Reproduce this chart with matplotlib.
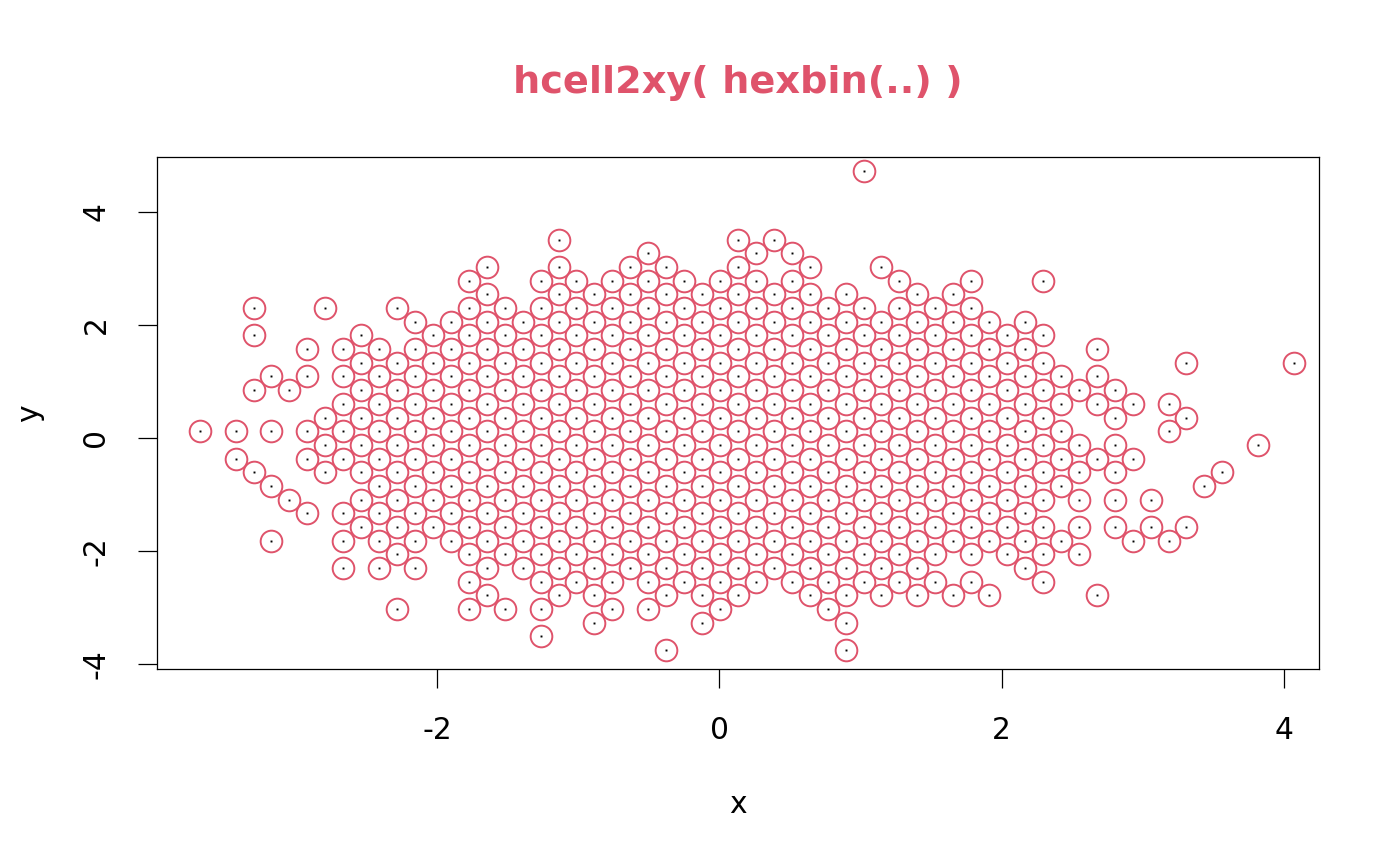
import numpy as np
import matplotlib
matplotlib.use("Agg")
import matplotlib.pyplot as plt

plt.rcParams["font.family"] = ["DejaVu Sans"]
plt.rcParams["axes.unicode_minus"] = False

# hexbin lattice (xbins = 30)
x_bnds = [-3.68, 3.945]
y_bnds = [-3.755, 4.635]
xbins = 30

# occupied hexagon cells, one entry per lattice row (row 0 = bottom)
# column indices j; odd rows are shifted by half a cell
row_cells = [
    "13,18",                    # 0
    "9",                        # 1
    "11,14,18",                 # 2
    "5,7-9,11,12,14,17",        # 3
    "8,10,11,13-15,17-22,25",   # 4
    "7,9-21,23",                # 5
    "4-6,8-20,23",              # 6
    "5,7-24",                   # 7
    "2,4-24,26,27",             # 8
    "4-27",                     # 9
    "3-23",                     # 10
    "2,4-26",                   # 11
    "2,5-24,28",                # 12
    "1,3-25,28",                # 13
    "1,3-26",                   # 14
    "3-25,29",                  # 15
    "0-24,27",                  # 16
    "3-23,25,27",               # 17
    "4-27",                     # 18
    "1,2,4-25",                 # 19
    "2-25",                     # 20
    "4-23,27,30",               # 21
    "3-23,25",                  # 22
    "1,4,6-23",                 # 23
    "6-23",                     # 24
    "1,3,5,7-21",               # 25
    "8,10-18,20,21",            # 26
    "7,9-16,19,21,23",          # 27
    "8,10,12,13,15,17,19",      # 28
    "12,15,16",                 # 29
    "10,15,16",                 # 30
    "",                         # 31
    "",                         # 32
    "",                         # 33
    "",                         # 34
    "18",                       # 35
]

x_ticks = [-2, 0, 2, 4]
y_ticks = [-4, -2, 0, 2, 4]
RED = "#DF536B"


def parse(spec):
    out = []
    for part in spec.split(","):
        part = part.strip()
        if not part:
            continue
        if "-" in part:
            a, b = part.split("-")
            out.extend(range(int(a), int(b) + 1))
        else:
            out.append(int(part))
    return out


def hcell2xy():
    # same as hexbin::hcell2xy: centres from row i / column j
    c3 = (x_bnds[1] - x_bnds[0]) / xbins
    c4 = (y_bnds[1] - y_bnds[0]) * np.sqrt(3) / (2 * xbins)
    xs, ys = [], []
    for i, spec in enumerate(row_cells):
        for j in parse(spec):
            xs.append(x_bnds[0] + c3 * (j + 0.5 * (i % 2)))
            ys.append(y_bnds[0] + c4 * i)
    return np.array(xs), np.array(ys)


def main():
    cx, cy = hcell2xy()

    fig = plt.figure(figsize=(14, 8.66), dpi=100)
    ax = fig.add_axes([0.1121, 0.2275, 0.83, 0.5912])

    # one point per occupied cell, drawn like pch="."
    ax.plot(cx, cy, ls="none", marker="s", ms=1.4, mew=0, color="black")
    ax.plot(cx, cy, ls="none", marker="o", ms=15.6, mfc="none",
            mec=RED, mew=1.4)

    ax.set_xlim(-3.983, 4.248)
    ax.set_ylim(-4.088, 4.973)
    ax.set_xticks(x_ticks)
    ax.set_yticks(y_ticks)
    ax.set_xticklabels([str(v) for v in x_ticks])
    ax.set_yticklabels([str(v) for v in y_ticks], rotation=90, va="center")
    ax.tick_params(direction="out", length=13.5, width=0.9, labelsize=21.4,
                   pad=20)
    for s in ax.spines.values():
        s.set_linewidth(0.9)

    ax.set_xlabel("x", fontsize=21.4, va="center")
    ax.xaxis.set_label_coords(0.5, -0.2656)
    ax.set_ylabel("y", fontsize=21.4, va="center")
    ax.yaxis.set_label_coords(-0.1093, 0.5)

    ax.text(0.5, 1.1445, "hcell2xy( hexbin(..) )", transform=ax.transAxes,
            ha="center", va="center", fontsize=27.5, fontweight="bold",
            color=RED)

    fig.savefig("out.png", dpi=100)


if __name__ == "__main__":
    main()
